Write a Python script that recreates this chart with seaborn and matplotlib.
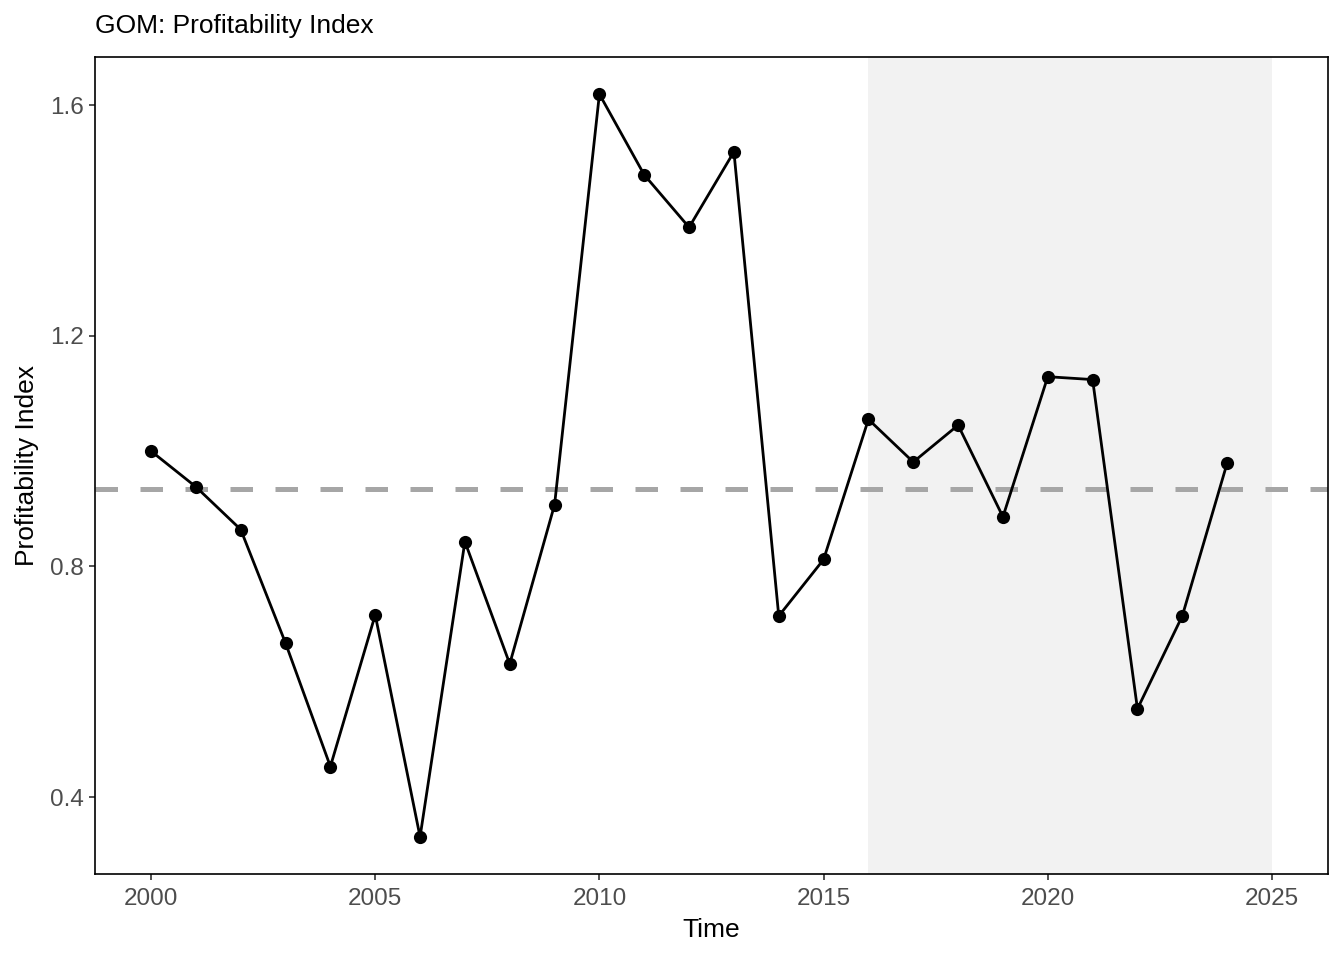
import numpy as np
import pandas as pd
import matplotlib
matplotlib.use("Agg")
import matplotlib.pyplot as plt
import seaborn as sns

years = list(range(2000, 2025))
values = [1.000, 0.938, 0.864, 0.667, 0.453, 0.716, 0.331, 0.843, 0.631, 0.907,
          1.619, 1.479, 1.388, 1.519, 0.714, 0.812, 1.055, 0.981, 1.045, 0.886,
          1.129, 1.124, 0.553, 0.714, 0.979]
shade_start, shade_end = 2016, 2025
title = "GOM: Profitability Index"
xlabel = "Time"
ylabel = "Profitability Index"

df = pd.DataFrame({"Time": years, "Value": values})
mean_val = float(np.mean(values))

sns.set_theme(style="ticks")
plt.rcParams['font.family'] = ['Liberation Sans', 'DejaVu Sans']

fig = plt.figure(figsize=(13.44, 9.6), dpi=100)
ax = fig.add_axes([95/1344, 1 - 874/960, (1328-95)/1344, (874-57)/960])

ax.axvspan(shade_start, shade_end, color="#F2F2F2", lw=0, zorder=0)
ax.axhline(mean_val, color="#A6A6A6", lw=3.6, ls=(0, (4.5, 4.5)), zorder=1)
sns.lineplot(data=df, x="Time", y="Value", ax=ax, color="black", lw=2.0,
             marker="o", markersize=9.5, markeredgewidth=0, zorder=3)

ax.set_xlim(1998.75, 2026.25)
ax.set_ylim(0.2666, 1.6834)
ax.set_xticks([2000, 2005, 2010, 2015, 2020, 2025])
ax.set_yticks([0.4, 0.8, 1.2, 1.6])
ax.set_yticklabels(["0.4", "0.8", "1.2", "1.6"])

for s in ax.spines.values():
    s.set_color("black")
    s.set_linewidth(1.2)
    s.set_visible(True)
ax.tick_params(axis="both", length=4, width=1.2, color="#333333",
               labelsize=17.5, labelcolor="#4D4D4D")
ax.tick_params(axis="x", pad=6)
ax.tick_params(axis="y", pad=4)
ax.set_xlabel(xlabel, fontsize=19, color="black", labelpad=6)
ax.set_ylabel(ylabel, fontsize=19, color="black", labelpad=8)
fig.text(95/1344, 1 - 26/960, title, fontsize=19, ha="left", va="center", color="black")
ax.grid(False)

fig.savefig("out.png", dpi=100)
